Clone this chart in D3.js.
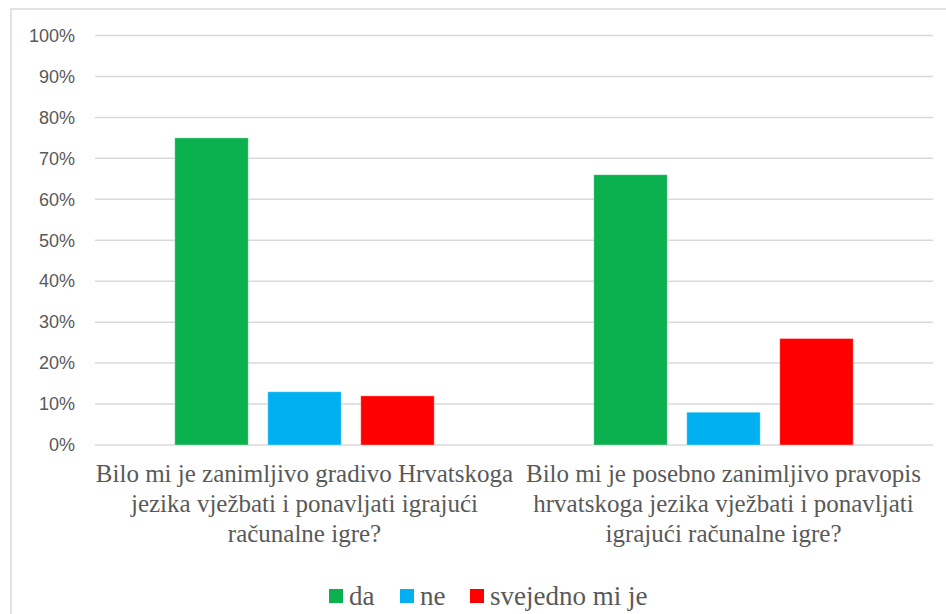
<!DOCTYPE html>
<html>
<head>
<meta charset="utf-8">
<script src="https://cdn.jsdelivr.net/npm/d3@7"></script>
<style>
  html, body { margin: 0; padding: 0; background: #fff; }
  svg { display: block; }
</style>
</head>
<body>
<svg id="chart" width="946" height="614"></svg>
<script>
const categories = [
  ["Bilo mi je zanimljivo gradivo Hrvatskoga", "jezika vježbati i ponavljati igrajući", "računalne igre?"],
  ["Bilo mi je posebno zanimljivo pravopis", "hrvatskoga jezika vježbati i ponavljati", "igrajući računalne igre?"]
];
const seriesNames = ["da", "ne", "svejedno mi je"];
const seriesColors = ["#0BB04F", "#00B0F0", "#FF0000"];
const daValues = [75, 66];
const neValues = [13, 8];
const svejednoValues = [12, 26];
const tickValues = [0, 10, 20, 30, 40, 50, 60, 70, 80, 90, 100];

const seriesValues = [daValues, neValues, svejednoValues];
const svg = d3.select("#chart");
const textColor = "#595959";

// chart border
svg.append("rect")
  .attr("x", 11).attr("y", 9)
  .attr("width", 960).attr("height", 640)
  .attr("fill", "#fff").attr("stroke", "#D9D9D9").attr("stroke-width", 1.5);

const plot = { left: 95, right: 933, top: 35.5, bottom: 445 };

const x0 = d3.scaleBand()
  .domain(d3.range(categories.length))
  .range([plot.left, plot.right])
  .paddingInner(0).paddingOuter(0);

const x1 = d3.scaleBand()
  .domain(d3.range(seriesNames.length))
  .range([0, x0.bandwidth()])
  .paddingInner(0.21)
  .paddingOuter(0.858);

const y = d3.scaleLinear().domain([0, 100]).range([plot.bottom, plot.top]);

// gridlines
svg.append("g")
  .selectAll("line")
  .data(tickValues)
  .join("line")
  .attr("x1", plot.left).attr("x2", plot.right)
  .attr("y1", d => y(d)).attr("y2", d => y(d))
  .attr("stroke", "#D9D9D9").attr("stroke-width", 1.5);

// y axis labels
const yAxis = d3.axisLeft(y).tickValues(tickValues).tickFormat(d => d + "%").tickSize(0).tickPadding(20);
const yg = svg.append("g").attr("transform", `translate(${plot.left},0)`).call(yAxis);
yg.select(".domain").remove();
yg.selectAll("text")
  .attr("fill", textColor)
  .style("font-family", "'Liberation Sans', Arial, sans-serif")
  .style("font-size", "18px");

// bars
const groups = svg.append("g")
  .selectAll("g")
  .data(categories.map((c, i) => i))
  .join("g")
  .attr("transform", i => `translate(${x0(i)},0)`);

groups.selectAll("rect")
  .data(i => seriesValues.map((vals, s) => ({ s, v: vals[i] })))
  .join("rect")
  .attr("x", d => x1(d.s))
  .attr("width", x1.bandwidth())
  .attr("y", d => y(d.v))
  .attr("height", d => y(0) - y(d.v))
  .attr("fill", d => seriesColors[d.s])
  .attr("stroke", "rgba(255,255,255,0.35)")
  .attr("stroke-width", 1);

// category labels
const catG = svg.append("g");
categories.forEach((lines, i) => {
  const cx = x0(i) + x0.bandwidth() / 2;
  const t = catG.append("text")
    .attr("text-anchor", "middle")
    .attr("fill", textColor)
    .style("font-family", "'Liberation Serif', 'Times New Roman', serif")
    .style("font-size", "25px");
  lines.forEach((ln, j) => {
    t.append("tspan").attr("x", cx).attr("y", 482 + j * 30).text(ln);
  });
});

// legend
const legendX = [329, 400, 470];
const lg = svg.append("g");
seriesNames.forEach((name, i) => {
  lg.append("rect")
    .attr("x", legendX[i]).attr("y", 589)
    .attr("width", 14).attr("height", 14)
    .attr("fill", seriesColors[i]);
  lg.append("text")
    .attr("x", legendX[i] + 20).attr("y", 605)
    .attr("fill", textColor)
    .style("font-family", "'Liberation Serif', 'Times New Roman', serif")
    .style("font-size", "27px")
    .text(name);
});
</script>
</body>
</html>
